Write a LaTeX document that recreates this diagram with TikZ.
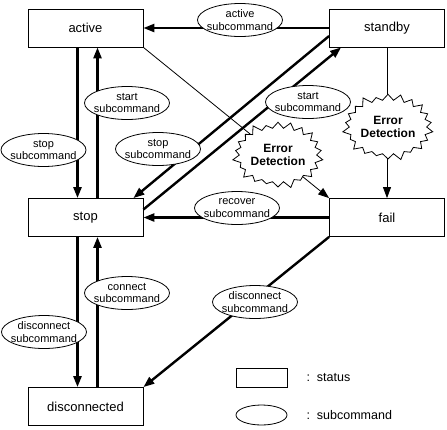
\documentclass[tikz,border=0pt]{standalone}
\usepackage{fontspec}
\setmainfont{Liberation Sans}
\usetikzlibrary{shapes,arrows.meta,positioning,calc}

\begin{document}
\begin{tikzpicture}[x=1pt,y=-1pt,
    status/.style={draw,line width=0.8pt,minimum width=115pt,minimum height=38pt,inner sep=0pt,font=\fontsize{13}{15}\selectfont},
    subcmd/.style={draw,ellipse,fill=white,line width=0.8pt,minimum width=85pt,minimum height=33pt,inner xsep=-5pt,inner ysep=-1pt,align=center,font=\fontsize{11}{12.5}\selectfont},
    errdet/.style={draw,starburst,fill=white,line width=0.8pt,starburst points=22,starburst point height=8pt,minimum width=86pt,minimum height=70pt,inner sep=0pt,align=center,font=\bfseries\fontsize{12}{13}\selectfont},
    thickarr/.style={-{Triangle[length=11pt,width=8pt]},line width=2.4pt},
    thinarr/.style={-{Triangle[length=11pt,width=8pt]},line width=0.8pt},
    legtext/.style={anchor=west,font=\fontsize{12.5}{14}\selectfont}]
    \useasboundingbox (0,0) rectangle (447,429);

    % Status boxes
    \node[status] (active) at (85.5,28) {active};
    \node[status] (standby) at (387,28) {standby};
    \node[status] (stop) at (85.5,217.5) {stop};
    \node[status] (fail) at (387,217.5) {fail};
    \node[status] (disc) at (85.5,406.5) {disconnected};

    % active <-> stop
    \draw[thickarr] ($(active.south)+(-8,0)$) -- ($(stop.north)+(-8,0)$);
    \draw[thickarr] ($(stop.north)+(12,0)$) -- ($(active.south)+(12,0)$);

    % standby -> active, standby <-> stop
    \draw[thickarr] (standby.west) -- (active.east);
    \draw[thickarr] ($(standby.west)+(0,8)$) -- ($(stop.north east)+(-10,0)$);
    \draw[thickarr] ($(stop.east)+(0,-8)$) -- ($(standby.south west)+(12,0)$);

    % Error detection
    \draw[thinarr] (active.south east) -- (fail.north west);
    \draw[thinarr] (standby.south) -- (fail.north);

    % fail -> stop, fail -> disconnected
    \draw[thickarr] (fail.west) -- (stop.east);
    \draw[thickarr] (fail.south west) -- (disc.north east);

    % stop <-> disconnected
    \draw[thickarr] ($(stop.south)+(-8,0)$) -- ($(disc.north)+(-8,0)$);
    \draw[thickarr] ($(disc.north)+(12,0)$) -- ($(stop.south)+(12,0)$);

    % Subcommands
    \node[subcmd] (actsub) at (240,20) {active\\subcommand};
    \node[subcmd] (startsubl) at (127,103) {start\\subcommand};
    \node[subcmd] (stopsubl) at (43.5,150) {stop\\subcommand};
    \node[subcmd] (stopsubm) at (158,149) {stop\\subcommand};
    \node[subcmd] (startsubr) at (308,102) {start\\subcommand};
    \node[subcmd] (recsub) at (237,208) {recover\\subcommand};
    \node[subcmd] (connsub) at (127,293) {connect\\subcommand};
    \node[subcmd] (discsubl) at (44,332) {disconnect\\subcommand};
    \node[subcmd] (discsubr) at (255,302) {disconnect\\subcommand};

    % Error detection bursts
    \node[errdet] (errl) at (278,155) {Error\\Detection};
    \node[errdet] (errr) at (388,127) {Error\\Detection};

    % Legend
    \node[draw,line width=0.8pt,minimum width=51pt,minimum height=19pt] (legbox) at (261.5,377.5) {};
    \node[legtext] (legboxtxt) at (303,377.5) {:\ \ status};
    \node[draw,ellipse,line width=0.8pt,minimum width=51pt,minimum height=20pt] (legell) at (261.5,415) {};
    \node[legtext] (legelltxt) at (303,415) {:\ \ subcommand};
\end{tikzpicture}
\end{document}
